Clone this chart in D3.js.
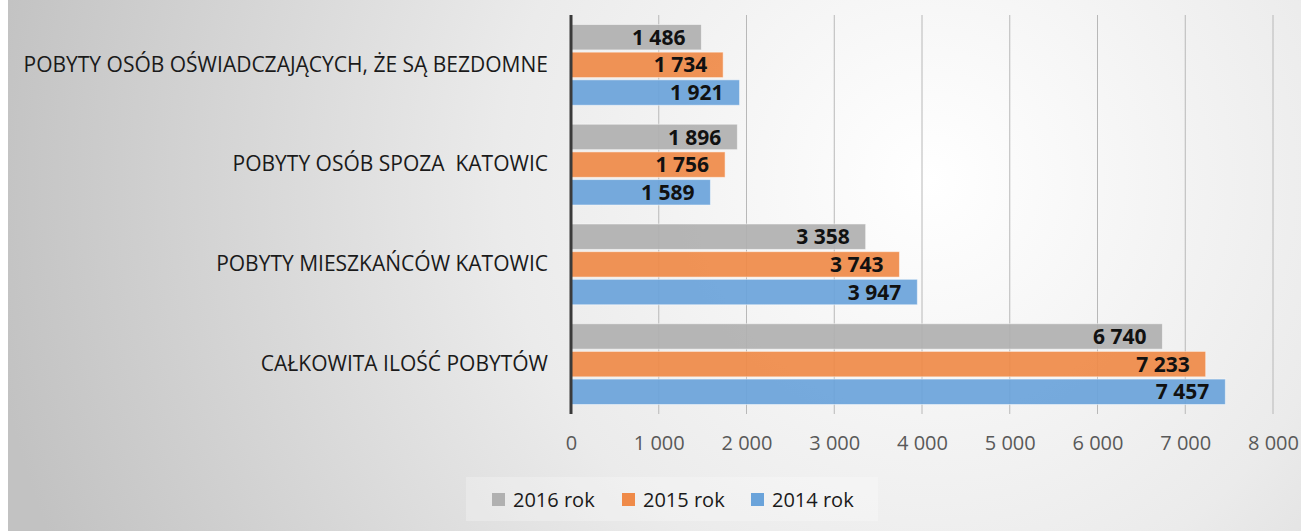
<!doctype html>
<html>
<head>
<meta charset="UTF-8">
<title>Pobyty</title>
<script src="https://d3js.org/d3.v7.min.js"></script>
<style>
  body { margin: 0; background: #fff; }
  text { font-family: "Open Sans", sans-serif; white-space: pre; }
</style>
</head>
<body>
<script>
// categories top -> bottom
var categories = [
  "POBYTY OSÓB OŚWIADCZAJĄCYCH, ŻE SĄ BEZDOMNE",
  "POBYTY OSÓB SPOZA  KATOWIC",
  "POBYTY MIESZKAŃCÓW KATOWIC",
  "CAŁKOWITA ILOŚĆ POBYTÓW"
];
var seriesNames = ["2016 rok", "2015 rok", "2014 rok"];
var values2016 = [1486, 1896, 3358, 6740];
var values2015 = [1734, 1756, 3743, 7233];
var values2014 = [1921, 1589, 3947, 7457];
var xTicks = [0, 1000, 2000, 3000, 4000, 5000, 6000, 7000, 8000];
var colors = ["#b0b0b0", "#ef8a48", "#6aa3da"];

var W = 1301, H = 531;
var seriesValues = [values2016, values2015, values2014];

var svg = d3.select("body").append("svg")
    .attr("width", W)
    .attr("height", H);

// background gradient
var defs = svg.append("defs");
var grad = defs.append("radialGradient")
    .attr("id", "bg")
    .attr("gradientUnits", "userSpaceOnUse")
    .attr("cx", 930).attr("cy", 180).attr("r", 950);
grad.append("stop").attr("offset", "0%").attr("stop-color", "#ffffff");
grad.append("stop").attr("offset", "45%").attr("stop-color", "#ebebeb");
grad.append("stop").attr("offset", "100%").attr("stop-color", "#c2c2c2");

svg.append("rect")
    .attr("x", 8).attr("y", 0)
    .attr("width", W - 8).attr("height", H)
    .attr("fill", "url(#bg)");

var x = d3.scaleLinear().domain([0, 8000]).range([571, 1273]);
var y = d3.scaleBand().domain(categories).range([15, 414])
    .paddingInner(0.19).paddingOuter(0.095);
var ySub = d3.scaleBand().domain(seriesNames).range([0, y.bandwidth()])
    .paddingInner(0.08);

var fmt = function(v) { return d3.format(",")(v).replace(/,/g, " "); };

// gridlines
svg.append("g").selectAll("line")
    .data(xTicks.filter(function(d) { return d > 0; }))
    .enter().append("line")
    .attr("x1", function(d) { return x(d); })
    .attr("x2", function(d) { return x(d); })
    .attr("y1", 15).attr("y2", 414)
    .attr("stroke", "#b8b8b8")
    .attr("stroke-width", 1);

// bars
var groups = svg.append("g").selectAll("g")
    .data(categories)
    .enter().append("g")
    .attr("transform", function(d) { return "translate(0," + y(d) + ")"; });

seriesNames.forEach(function(s, si) {
    groups.append("rect")
        .attr("x", x(0))
        .attr("y", ySub(s))
        .attr("width", function(d, i) { return x(seriesValues[si][i]) - x(0); })
        .attr("height", ySub.bandwidth())
        .attr("fill", colors[si])
        .attr("fill-opacity", 0.92)
        .attr("stroke", "#ffffff")
        .attr("stroke-opacity", 0.5)
        .attr("stroke-width", 1);

    groups.append("text")
        .attr("x", function(d, i) { return x(seriesValues[si][i]) - 16; })
        .attr("y", ySub(s) + ySub.bandwidth() / 2)
        .attr("dy", "0.36em")
        .attr("text-anchor", "end")
        .attr("font-size", 21)
        .attr("font-weight", "bold")
        .attr("fill", "#111")
        .text(function(d, i) { return fmt(seriesValues[si][i]); });
});

// value axis line (at 0)
svg.append("line")
    .attr("x1", x(0)).attr("x2", x(0))
    .attr("y1", 15).attr("y2", 414)
    .attr("stroke", "#3a3a3a")
    .attr("stroke-width", 3);

// x tick labels
var xAxis = d3.axisBottom(x).tickValues(xTicks).tickFormat(fmt).tickSize(0);
var xg = svg.append("g")
    .attr("transform", "translate(0,433)")
    .call(xAxis);
xg.select(".domain").remove();
xg.selectAll("text")
    .attr("font-size", 20)
    .attr("font-family", "Open Sans, sans-serif")
    .attr("fill", "#595959");

// category labels
var yAxis = d3.axisLeft(y).tickSize(0).tickPadding(0);
var yg = svg.append("g")
    .attr("transform", "translate(548,0)")
    .call(yAxis);
yg.select(".domain").remove();
yg.selectAll("text")
    .attr("font-size", 21)
    .attr("font-family", "Open Sans, sans-serif")
    .attr("fill", "#1a1a1a");

// legend
svg.append("rect")
    .attr("x", 466).attr("y", 477)
    .attr("width", 412).attr("height", 44)
    .attr("fill", "#ffffff").attr("fill-opacity", 0.25);

var legendX = [492, 622, 751];
var leg = svg.append("g").selectAll("g")
    .data(seriesNames)
    .enter().append("g")
    .attr("transform", function(d, i) { return "translate(" + legendX[i] + ",493)"; });
leg.append("rect")
    .attr("width", 13).attr("height", 13)
    .attr("fill", function(d, i) { return colors[i]; });
leg.append("text")
    .attr("x", 21).attr("y", 6.5)
    .attr("dy", "0.36em")
    .attr("font-size", 20)
    .attr("fill", "#1a1a1a")
    .text(function(d) { return d; });
</script>
</body>
</html>
